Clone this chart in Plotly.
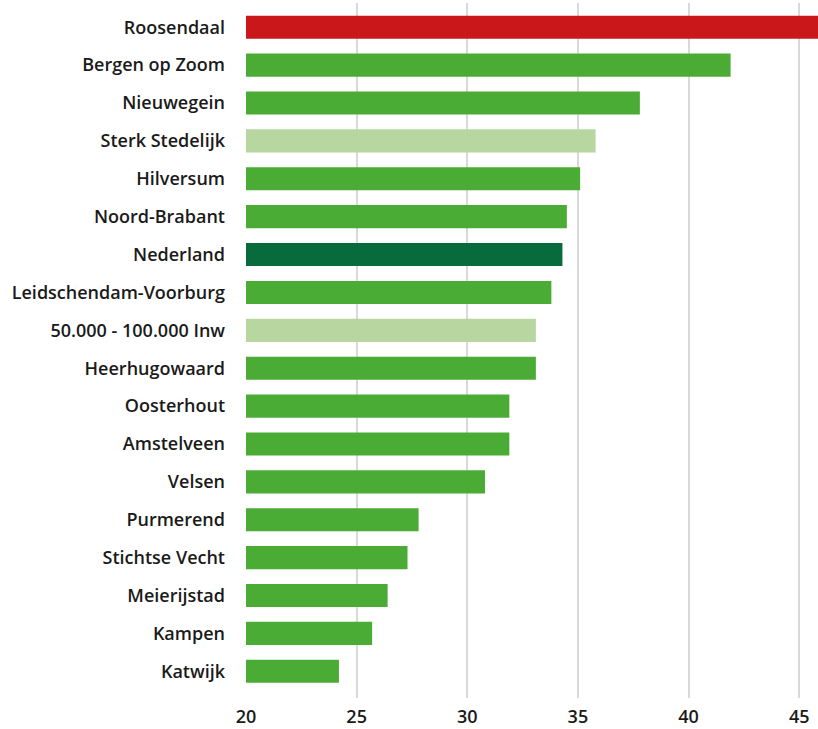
import plotly.graph_objects as go

regions = [
    "Roosendaal", "Bergen op Zoom", "Nieuwegein", "Sterk Stedelijk", "Hilversum",
    "Noord-Brabant", "Nederland", "Leidschendam-Voorburg", "50.000 - 100.000 Inw",
    "Heerhugowaard", "Oosterhout", "Amstelveen", "Velsen", "Purmerend",
    "Stichtse Vecht", "Meierijstad", "Kampen", "Katwijk",
]
values = [46.2, 41.9, 37.8, 35.8, 35.1, 34.5, 34.3, 33.8, 33.1,
          33.1, 31.9, 31.9, 30.8, 27.8, 27.3, 26.4, 25.7, 24.2]
kinds = ["focus", "peer", "peer", "class", "peer", "province", "country", "peer", "class",
         "peer", "peer", "peer", "peer", "peer", "peer", "peer", "peer", "peer"]
x_ticks = [20, 25, 30, 35, 40, 45]

palette = {
    "focus": "#C9171A",
    "peer": "#4AAB35",
    "class": "#B8D6A0",
    "province": "#4AAB35",
    "country": "#076B3B",
}

fig = go.Figure(
    go.Bar(
        x=values,
        y=regions,
        orientation="h",
        marker=dict(color=[palette[k] for k in kinds], line_width=0),
        hoverinfo="x+y",
    )
)

fig.update_layout(
    width=818,
    height=729,
    margin=dict(l=246, r=0, t=3, b=31),
    plot_bgcolor="white",
    paper_bgcolor="white",
    bargap=0.39,
    showlegend=False,
    font=dict(family="Open Sans", size=18, color="#1a1a1a", weight=600),
)
fig.update_xaxes(
    range=[20, 45.85],
    tickvals=x_ticks,
    showgrid=True,
    gridcolor="#d9d9d9",
    gridwidth=2,
    zeroline=False,
    showline=False,
    ticks="",
    ticklabelstandoff=6,
)
fig.update_yaxes(
    range=[17.705, -0.64],
    showgrid=False,
    showline=False,
    ticks="",
    ticklabelstandoff=20,
)

fig.write_html(
    "out.html",
    config={"displayModeBar": False},
    post_script="document.body.style.margin='0';",
)
